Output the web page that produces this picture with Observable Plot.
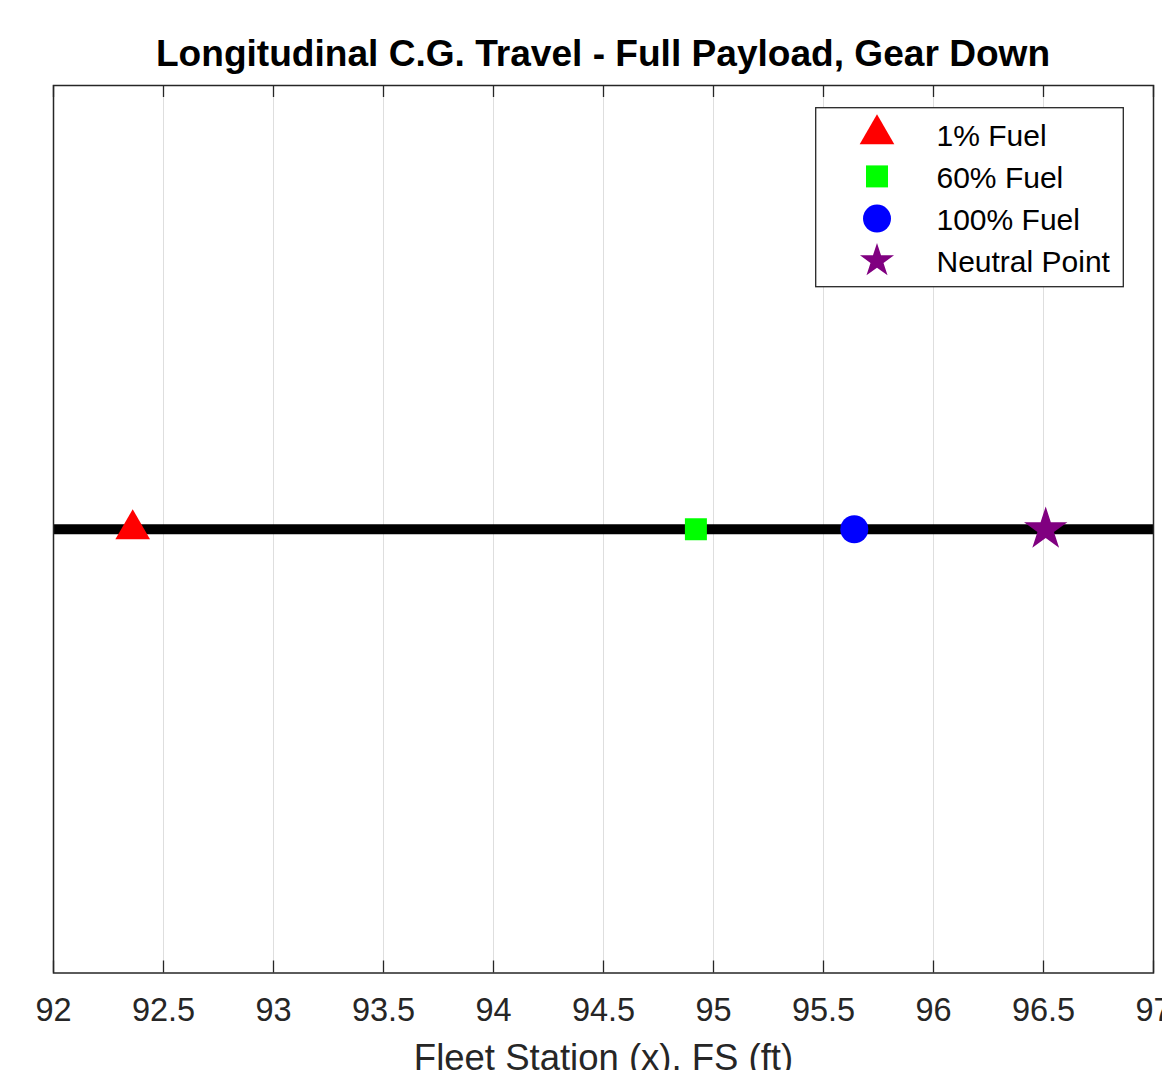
<!DOCTYPE html>
<html><head><meta charset="utf-8">
<script src="https://cdn.jsdelivr.net/npm/d3@7"></script>
<script src="https://cdn.jsdelivr.net/npm/@observablehq/plot@0.6"></script>
<style>
html,body{margin:0;padding:0;background:#fff;}
#wrap{position:relative;width:1162px;height:1070px;overflow:hidden;font-family:"Liberation Sans",Arial,Helvetica,sans-serif;}
#chart{position:absolute;left:0;top:0;}
#title{position:absolute;left:53px;width:1100px;top:34.5px;text-align:center;font-weight:bold;font-size:37.1px;line-height:1;color:#000;white-space:nowrap;}
#legend{position:absolute;left:815px;top:107px;}
</style></head><body>
<div id="wrap"><div id="chart"></div><div id="title"></div><div id="legend"></div></div>
<script>
// ---- data ----
const titleText = "Longitudinal C.G. Travel - Full Payload, Gear Down";
const xLabel = "Fleet Station (x), FS (ft)";
const seriesNames = ["1% Fuel", "60% Fuel", "100% Fuel", "Neutral Point"];
const stations = [92.36, 94.92, 95.64, 96.51];
const symbols = ["triangle", "square", "circle", "star"];
const colors = ["#ff0000", "#00ff00", "#0000ff", "#800080"];
const xTicks = [92, 92.5, 93, 93.5, 94, 94.5, 95, 95.5, 96, 96.5, 97];
const xDomain = [92, 97];
const yDomain = [-1, 1];
const yLevel = [0];

// ---- styles ----
const FONT = '"Liberation Sans", Arial, Helvetica, sans-serif';
const plotR = {triangle: 12.86, square: 12.41, circle: 14, star: 13.63};
const legendSize = {triangle: 519.6, square: 484, circle: Math.PI * 14 * 14, star: 359.5};
const d3Sym = {triangle: d3.symbolTriangle, square: d3.symbolSquare, circle: d3.symbolCircle, star: d3.symbolStar};

const points = seriesNames.map((name, i) => ({name, x: stations[i], y: yLevel[0], symbol: symbols[i], color: colors[i]}));

const chart = Plot.plot({
  width: 1162, height: 1070,
  marginLeft: 53, marginRight: 9, marginTop: 85, marginBottom: 97.5,
  style: {fontFamily: FONT, fontSize: "32.5px", color: "#262626", background: "transparent", overflow: "visible"},
  x: {domain: xDomain},
  y: {domain: yDomain, axis: null},
  marks: [
    Plot.gridX(xTicks.slice(1, -1), {stroke: "#dedede", strokeOpacity: 1, strokeWidth: 1}),
    Plot.ruleY(yLevel, {stroke: "#000", strokeWidth: 10}),
    // inward tick marks on bottom and top edges
    Plot.ruleX(xTicks, {x: d => d, y1: yDomain[0], y2: yDomain[0], insetTop: -12, stroke: "#262626", strokeWidth: 1.3}),
    Plot.ruleX(xTicks, {x: d => d, y1: yDomain[1], y2: yDomain[1], insetBottom: -12, stroke: "#262626", strokeWidth: 1.3}),
    Plot.frame({stroke: "#262626", strokeWidth: 1.5}),
    Plot.axisX(xTicks, {anchor: "bottom", tickSize: 0, tickPadding: 24.5, tickFormat: d => String(d), label: null, fill: "#262626"}),
    ...points.map(p => Plot.dot([p], {x: "x", y: "y", symbol: p.symbol, fill: p.color, stroke: "none", r: plotR[p.symbol]})),
    Plot.text([xLabel], {frameAnchor: "bottom", text: d => d, dy: 85, lineAnchor: "middle", fontSize: 36.5, fill: "#262626"})
  ]
});
document.getElementById("chart").appendChild(chart);
document.getElementById("title").textContent = titleText;

// ---- legend ----
const W = 310, H = 182;
const lg = d3.select("#legend").append("svg").attr("width", W).attr("height", H)
  .style("font-family", FONT).style("overflow", "visible");
lg.append("rect").attr("x", 0.7).attr("y", 0.7).attr("width", 307.6).attr("height", 179)
  .attr("fill", "#fff").attr("stroke", "#262626").attr("stroke-width", 1.3);
seriesNames.forEach((name, i) => {
  const cy = 27.2 + 42.2 * i;
  lg.append("path")
    .attr("d", d3.symbol().type(d3Sym[symbols[i]]).size(legendSize[symbols[i]])())
    .attr("transform", `translate(62,${cy})`)
    .attr("fill", colors[i]);
  lg.append("text").attr("x", 121.5).attr("y", cy + 11.5)
    .attr("font-size", 30).attr("fill", "#000").text(name);
});
</script>
</body></html>
